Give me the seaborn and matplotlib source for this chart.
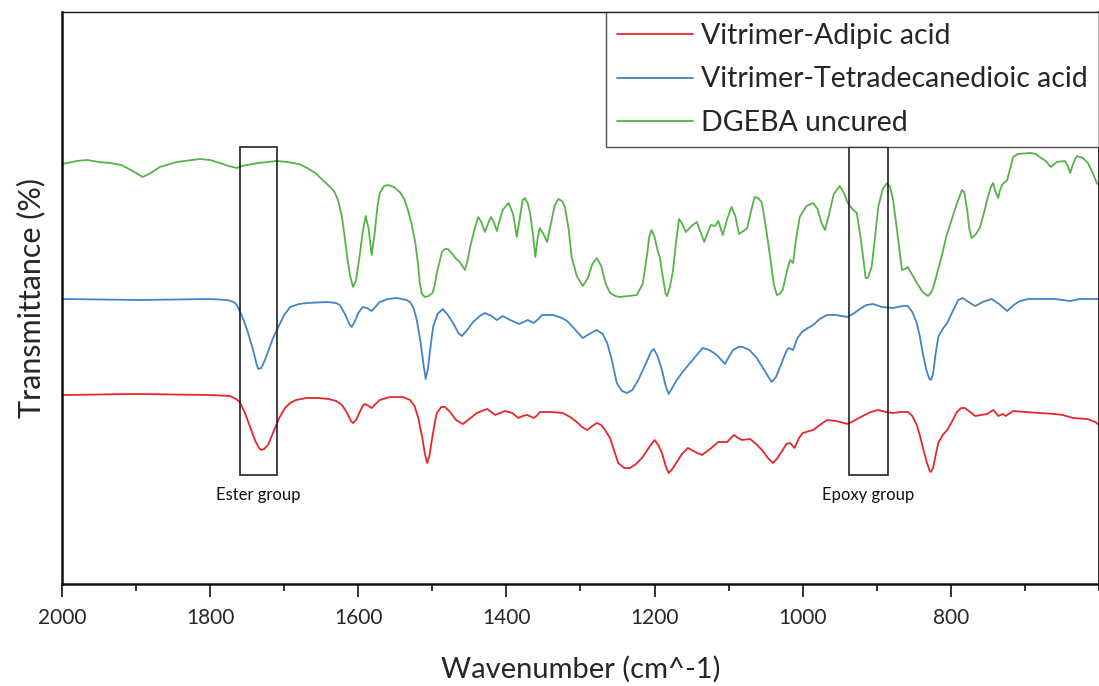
import matplotlib
matplotlib.use("Agg")
import matplotlib.pyplot as plt
from matplotlib.patches import Rectangle
from matplotlib.ticker import MultipleLocator
import pandas as pd
import seaborn as sns

# FTIR spectra: wavenumber (cm^-1) and offset transmittance (arbitrary units)
adipic_wn = [1999, 1900, 1800, 1773, 1765, 1760, 1753, 1746, 1739, 1734, 1731, 1727, 1722,
             1719, 1713, 1706, 1699, 1692, 1684, 1670, 1654, 1640, 1630, 1622, 1615, 1610,
             1607, 1603, 1598, 1594, 1591, 1586, 1582, 1578, 1571, 1557, 1540, 1530, 1524,
             1519, 1514, 1510, 1507, 1504, 1500, 1496, 1494, 1488, 1483, 1476, 1468, 1459,
             1450, 1440, 1426, 1415, 1402, 1392, 1384, 1378, 1372, 1363, 1358, 1355, 1340,
             1324, 1314, 1305, 1298, 1291, 1284, 1278, 1272, 1267, 1260, 1254, 1249, 1241,
             1233, 1225, 1216, 1207, 1200, 1195, 1190, 1185, 1181, 1176, 1170, 1163, 1155,
             1145, 1136, 1125, 1114, 1102, 1093, 1087, 1082, 1071, 1063, 1055, 1047, 1040,
             1034, 1027, 1022, 1017, 1011, 1005, 1000, 986, 975, 967, 955, 939, 929, 919,
             908, 898, 888, 878, 868, 858, 852, 846, 842, 838, 833, 829, 827, 824, 821, 817,
             811, 805, 798, 792, 786, 781, 774, 767, 751, 743, 738, 736, 730, 726, 716, 700,
             680, 660, 649, 635, 616, 605, 600]
adipic_t = [189, 190, 189, 188, 185, 182, 171, 157, 143, 136, 134, 135, 139,
            144, 155, 167, 176, 181, 184, 186, 186, 185, 183, 179, 171, 163,
            161, 164, 172, 178, 180, 178, 176, 179, 184, 187, 187, 184, 178,
            166, 148, 130, 121, 128, 147, 164, 171, 177, 177, 172, 164, 160,
            165, 171, 175, 169, 173, 171, 166, 168, 169, 166, 169, 172, 172,
            171, 167, 162, 157, 154, 158, 161, 159, 154, 146, 132, 121, 116,
            116, 120, 127, 137, 144, 139, 131, 118, 111, 115, 122, 130, 136,
            132, 129, 135, 142, 142, 149, 146, 144, 145, 140, 134, 126, 121,
            126, 134, 140, 141, 136, 146, 151, 154, 160, 164, 163, 160, 164, 168,
            172, 174, 172, 171, 172, 172, 168, 159, 149, 137, 123, 114, 112, 116, 127, 141,
            149, 154, 163, 172, 176, 176, 172, 168, 170, 174, 170, 168, 170, 168, 173, 172,
            171, 170, 169, 166, 165, 162, 159]

tetra_wn = [1999, 1895, 1800, 1777, 1768, 1764, 1757, 1750, 1742, 1737, 1735, 1731, 1726,
            1722, 1715, 1708, 1700, 1692, 1680, 1669, 1642, 1630, 1625, 1618, 1612, 1609,
            1605, 1600, 1594, 1588, 1582, 1577, 1571, 1560, 1548, 1535, 1530, 1525, 1521,
            1516, 1512, 1509, 1506, 1502, 1499, 1493, 1486, 1479, 1472, 1465, 1460, 1453,
            1445, 1436, 1429, 1420, 1413, 1405, 1395, 1383, 1377, 1371, 1363, 1357, 1352,
            1337, 1325, 1318, 1308, 1297, 1288, 1278, 1270, 1264, 1258, 1251, 1244, 1237,
            1230, 1222, 1212, 1205, 1201, 1196, 1190, 1185, 1181, 1177, 1170, 1160, 1152,
            1143, 1135, 1126, 1116, 1105, 1099, 1094, 1087, 1081, 1072, 1062, 1052, 1042,
            1036, 1028, 1022, 1019, 1013, 1007, 1001, 993, 986, 977, 967, 955, 940, 930,
            923, 914, 905, 893, 878, 865, 858, 852, 846, 842, 838, 833, 829, 827, 824, 821,
            817, 811, 805, 798, 790, 784, 778, 772, 767, 757, 745, 735, 724, 715, 707, 695,
            680, 660, 639, 626, 600]
tetra_t = [285, 284, 285, 284, 282, 279, 268, 254, 234, 219, 215, 216, 224,
           232, 246, 257, 269, 277, 280, 281, 282, 281, 279, 270, 260, 257,
           262, 271, 277, 276, 273, 277, 282, 285, 286, 284, 282, 275, 264,
           242, 220, 205, 215, 240, 257, 270, 275, 269, 261, 251, 248, 254,
           262, 268, 271, 268, 264, 268, 264, 260, 262, 264, 261, 265, 269,
           269, 266, 263, 255, 246, 250, 254, 250, 241, 225, 201, 193, 191,
           194, 204, 220, 232, 235, 228, 214, 198, 190, 195, 204, 214, 221,
           229, 236, 234, 229, 220, 228, 234, 237, 237, 234, 226, 214, 202,
           207, 222, 233, 236, 234, 246, 252, 256, 259, 265, 269, 269, 267, 271,
           275, 279, 280, 277, 276, 278, 278, 272, 261, 248, 231, 214, 205, 204, 210, 228,
           247, 255, 261, 272, 284, 286, 283, 280, 278, 282, 285, 280, 273, 279, 283, 285,
           285, 285, 283, 285, 285]

dgeba_wn = [1999, 1980, 1966, 1950, 1935, 1920, 1912, 1900, 1891, 1880, 1868, 1845, 1814,
            1800, 1787, 1775, 1764, 1757, 1750, 1735, 1723, 1710, 1696, 1680, 1669, 1658,
            1648, 1638, 1632, 1627, 1622, 1618, 1615, 1611, 1607, 1603, 1598, 1594, 1590,
            1586, 1582, 1578, 1574, 1571, 1565, 1560, 1552, 1544, 1538, 1533, 1528, 1523,
            1519, 1517, 1514, 1510, 1505, 1500, 1497, 1494, 1490, 1487, 1483, 1479, 1474,
            1469, 1463, 1456, 1452, 1449, 1443, 1438, 1434, 1429, 1425, 1421, 1417, 1413,
            1409, 1405, 1397, 1391, 1386, 1381, 1378, 1375, 1371, 1368, 1364, 1361, 1358,
            1355, 1350, 1345, 1340, 1335, 1330, 1325, 1321, 1316, 1312, 1305, 1297, 1290,
            1284, 1278, 1272, 1266, 1260, 1253, 1247, 1235, 1224, 1216, 1210, 1207, 1204,
            1200, 1196, 1193, 1188, 1185, 1183, 1179, 1175, 1171, 1167, 1163, 1158, 1150,
            1143, 1138, 1133, 1128, 1124, 1118, 1114, 1111, 1108, 1102, 1096, 1091, 1086,
            1080, 1075, 1070, 1065, 1060, 1055, 1050, 1044, 1039, 1035, 1031, 1027, 1021,
            1017, 1013, 1009, 1004, 995, 986, 980, 975, 970, 965, 958, 950, 945, 939, 933,
            927, 921, 915, 912, 907, 903, 898, 892, 886, 882, 878, 872, 866, 862, 858, 852,
            846, 838, 831, 826, 822, 816, 812, 806, 799, 792, 785, 782, 778, 775, 772, 767,
            761, 755, 750, 746, 743, 740, 736, 734, 731, 724, 720, 716, 710, 693, 685, 680,
            672, 665, 657, 646, 642, 639, 635, 630, 622, 615, 609, 603, 600]
dgeba_t = [420, 423, 424, 422, 421, 419, 416, 411, 407, 411, 417, 422, 425,
           424, 421, 418, 416, 418, 419, 421, 422, 423, 422, 420, 416, 411,
           404, 397, 392, 383, 367, 345, 327, 308, 297, 304, 329, 352, 368,
           355, 329, 350, 378, 391, 398, 399, 397, 392, 385, 374, 360, 341,
           318, 301, 290, 287, 288, 291, 298, 311, 323, 332, 335, 335, 331,
           326, 322, 314, 325, 337, 355, 367, 362, 352, 360, 367, 362, 353,
           364, 374, 381, 370, 347, 370, 384, 386, 380, 371, 348, 327, 345,
           356, 350, 342, 360, 378, 385, 383, 377, 355, 327, 308, 298, 306,
           320, 326, 318, 300, 291, 288, 287, 288, 289, 300, 330, 348, 354,
           347, 334, 327, 303, 290, 288, 298, 314, 342, 365, 361, 352, 358,
           362, 352, 342, 352, 359, 358, 363, 356, 349, 365, 377, 368, 350,
           353, 356, 372, 387, 386, 381, 358, 327, 300, 289, 290, 294, 314,
           324, 321, 345, 367, 378, 381, 375, 362, 354, 368, 390, 398, 392, 381, 375,
           371, 342, 306, 306, 317, 342, 377, 395, 401, 397, 384, 350, 314, 315, 317, 309,
           301, 292, 288, 292, 301, 318, 329, 348, 364, 380, 394, 392, 374, 355, 346, 349,
           356, 372, 387, 397, 401, 393, 386, 393, 399, 404, 415, 427, 430, 431, 430, 427,
           423, 417, 422, 423, 418, 411, 420, 428, 426, 421, 412, 401, 399]

series_names = ["Vitrimer-Adipic acid", "Vitrimer-Tetradecanedioic acid", "DGEBA uncured"]
series_colors = ["#e8262b", "#4584c4", "#55b347"]

# Highlighted bands: (high wavenumber, low wavenumber, label)
bands = [(1760, 1710, "Ester group"), (938, 885, "Epoxy group")]

df = pd.concat([
    pd.DataFrame({"wn": adipic_wn, "t": adipic_t, "sample": series_names[0]}),
    pd.DataFrame({"wn": tetra_wn, "t": tetra_t, "sample": series_names[1]}),
    pd.DataFrame({"wn": dgeba_wn, "t": dgeba_t, "sample": series_names[2]}),
], ignore_index=True)

sns.set_theme(style="white")
plt.rcParams["font.family"] = ["Lato", "DejaVu Sans"]
plt.rcParams["lines.solid_joinstyle"] = "round"

fig = plt.figure(figsize=(10.99, 6.86), dpi=100)
ax = fig.add_axes([0.0564, 0.1487, 0.9436, 0.8338])

sns.lineplot(data=df, x="wn", y="t", hue="sample", hue_order=series_names,
             palette=dict(zip(series_names, series_colors)), sort=False,
             estimator=None, linewidth=1.3, ax=ax)

ax.set_xlim(2000, 600)
ax.set_ylim(0, 572)

box_bottom, box_top = 109, 437
for hi, lo, text in bands:
    ax.add_patch(Rectangle((lo, box_bottom), hi - lo, box_top - box_bottom,
                           fill=False, edgecolor="#222222", linewidth=1.2, zorder=3))
    ax.text((hi + lo) / 2, box_bottom - 20, text, ha="center", va="center",
            fontsize=12, color="#111111")

ax.xaxis.set_minor_locator(MultipleLocator(100))
ax.set_xticks([2000, 1800, 1600, 1400, 1200, 1000, 800])
ax.tick_params(axis="x", which="major", bottom=True, direction="out", length=9,
               width=1.2, labelsize=15, pad=8, color="#111111")
ax.tick_params(axis="x", which="minor", bottom=True, direction="out", length=5,
               width=1.2, color="#111111")
ax.set_yticks([])

for side in ["left", "bottom", "top", "right"]:
    ax.spines[side].set_visible(True)
    ax.spines[side].set_color("#111111")
ax.spines["left"].set_linewidth(1.8)
ax.spines["bottom"].set_linewidth(1.8)
ax.spines["top"].set_linewidth(1.0)

ax.set_xlabel("Wavenumber (cm^-1)", fontsize=21, labelpad=20)
ax.set_ylabel("Transmittance (%)", fontsize=22, labelpad=12)

leg = ax.legend(loc="upper right", bbox_to_anchor=(1.0, 1.0), borderaxespad=0,
                fontsize=20.5, frameon=True, fancybox=False, handlelength=2.65,
                handletextpad=0.28, labelspacing=0.6, borderpad=0.4)
leg.get_frame().set_edgecolor("#222222")
leg.get_frame().set_linewidth(1.0)
for line in leg.get_lines():
    line.set_linewidth(1.3)

fig.savefig("out.png", dpi=100)
